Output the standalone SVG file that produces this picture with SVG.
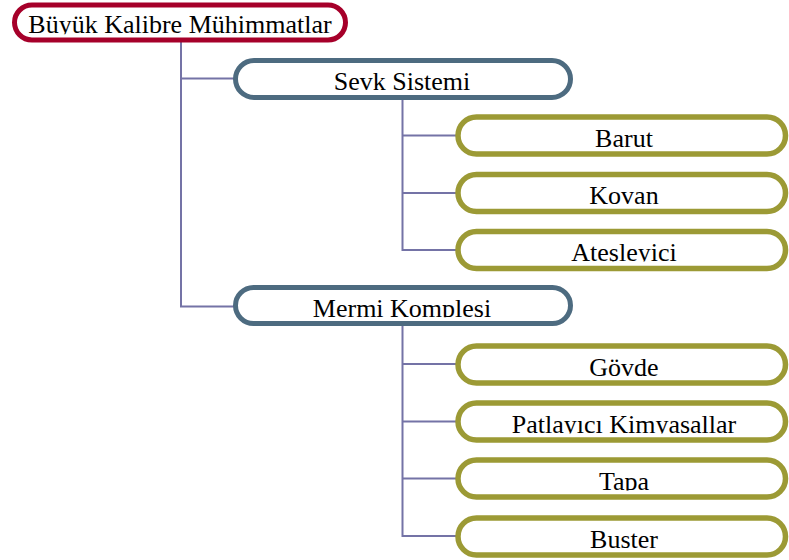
<svg xmlns="http://www.w3.org/2000/svg" width="789" height="560" viewBox="0 0 789 560">
<style>
.box{fill:#fff}
.root{stroke:#A6002A;stroke-width:5}
.mid{stroke:#4D6B80;stroke-width:5}
.leaf{stroke:#9C9A35;stroke-width:5.5}
text{font-family:"Liberation Serif","Times New Roman",serif;font-size:26px;fill:#000;text-anchor:middle}
.conn{fill:none;stroke:#7473A6;stroke-width:2}
</style>
<defs>
<clipPath id="c0"><rect x="0" y="0" width="789" height="34.3"/></clipPath>
<clipPath id="c1"><rect x="0" y="60" width="789" height="31"/></clipPath>
<clipPath id="c2"><rect x="0" y="286" width="789" height="31.2"/></clipPath>
<clipPath id="l1"><rect x="0" y="117" width="789" height="30.5"/></clipPath>
<clipPath id="l2"><rect x="0" y="174" width="789" height="30.5"/></clipPath>
<clipPath id="l3"><rect x="0" y="231" width="789" height="30.5"/></clipPath>
<clipPath id="l4"><rect x="0" y="345" width="789" height="31"/></clipPath>
<clipPath id="l5"><rect x="0" y="403" width="789" height="30.5"/></clipPath>
<clipPath id="l6"><rect x="0" y="460" width="789" height="30.5"/></clipPath>
<clipPath id="l7"><rect x="0" y="518" width="789" height="30"/></clipPath>
</defs>
<rect width="789" height="560" fill="#fff"/>
<g id="connectors">
<path class="conn" d="M181 40V306.5H236M181 78.5H236"/>
<path class="conn" d="M402.5 98V250H458M402.5 135.5H458M402.5 193H458"/>
<path class="conn" d="M402.5 325V536H458M402.5 364H458M402.5 421.5H458M402.5 478.5H458"/>
</g>
<g id="n-root">
<rect class="box root" x="14.5" y="5" width="331" height="35" rx="17.5"/>
<text x="180" y="33.3" clip-path="url(#c0)">Büyük Kalibre Mühimmatlar</text>
</g>
<g id="n-sevk">
<rect class="box mid" x="235.5" y="60.5" width="335" height="37" rx="18.5"/>
<text x="402" y="90" clip-path="url(#c1)">Sevk Sistemi</text>
</g>
<g id="n-barut">
<rect class="box leaf" x="458" y="117" width="327.5" height="37" rx="18.5"/>
<text x="624" y="146.7" clip-path="url(#l1)">Barut</text>
</g>
<g id="n-kovan">
<rect class="box leaf" x="458" y="174.5" width="327.5" height="37" rx="18.5"/>
<text x="624" y="204" clip-path="url(#l2)">Kovan</text>
</g>
<g id="n-ates">
<rect class="box leaf" x="458" y="231.5" width="327.5" height="37" rx="18.5"/>
<text x="624" y="261" clip-path="url(#l3)">Ateşleyici</text>
</g>
<g id="n-mermi">
<rect class="box mid" x="235.5" y="287.5" width="335" height="36" rx="18"/>
<text x="402" y="316.7" clip-path="url(#c2)">Mermi Komplesi</text>
</g>
<g id="n-govde">
<rect class="box leaf" x="458" y="346" width="327.5" height="37" rx="18.5"/>
<text x="624" y="375.5" clip-path="url(#l4)">Gövde</text>
</g>
<g id="n-patlayici">
<rect class="box leaf" x="458" y="403" width="327.5" height="37" rx="18.5"/>
<text x="624" y="433" clip-path="url(#l5)">Patlayıcı Kimyasallar</text>
</g>
<g id="n-tapa">
<rect class="box leaf" x="458" y="460" width="327.5" height="37" rx="18.5"/>
<text x="624" y="490" clip-path="url(#l6)">Tapa</text>
</g>
<g id="n-buster">
<rect class="box leaf" x="458" y="518" width="327.5" height="37" rx="18.5"/>
<text x="624" y="547.5" clip-path="url(#l7)">Buster</text>
</g>
</svg>
